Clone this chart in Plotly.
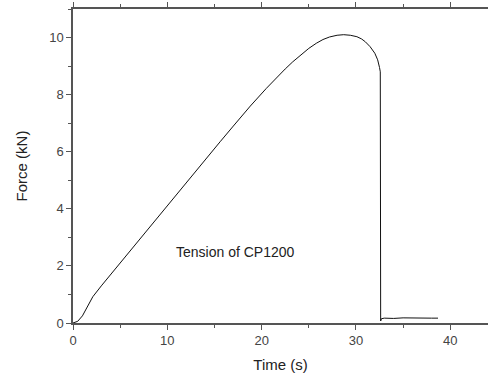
import plotly.graph_objects as go

# force-time record
time_s = [0, 0.5, 1, 1.5, 2.1, 3, 5.7, 9.2, 12.8, 15.6, 17, 18.8, 20.5, 21.5, 22.5,
          23.3, 24.1, 25, 25.8, 26.5, 27.2, 28, 28.7, 29.4, 30.1, 30.6, 31, 31.5,
          32, 32.3, 32.5, 32.58, 32.62, 32.7, 33, 34, 35, 36, 37, 38, 38.7]
force_kn = [0, 0.06, 0.25, 0.55, 0.92, 1.3, 2.39, 3.79, 5.23, 6.35, 6.9, 7.6, 8.22,
            8.57, 8.9, 9.15, 9.38, 9.62, 9.8, 9.93, 10.02, 10.08, 10.1, 10.08,
            10.03, 9.95, 9.85, 9.68, 9.45, 9.22, 8.95, 8.8, 0.07, 0.15, 0.17, 0.16,
            0.18, 0.17, 0.18, 0.17, 0.17]

label = "Tension of CP1200"

fig = go.Figure()
fig.add_trace(go.Scatter(x=time_s, y=force_kn, mode="lines",
                         line=dict(color="#111111", width=1), showlegend=False))

fig.add_annotation(text=label, x=17.2, y=2.5, xref="x", yref="y", showarrow=False,
                   font=dict(size=14, color="#222222"))

axis_common = dict(showline=True, linecolor="#555555", linewidth=1.5,
                   ticks="outside", ticklen=5, tickcolor="#555555", showgrid=False,
                   zeroline=False, automargin=False,
                   tickfont=dict(size=13, color="#444444"),
                   minor=dict(ticks="outside", ticklen=3, tickcolor="#555555"))

fig.update_xaxes(range=[0, 44], dtick=10, minor_dtick=5, mirror="ticks",
                 title=dict(text="Time (s)", font=dict(size=15, color="#222222"), standoff=12),
                 **axis_common)
fig.update_yaxes(range=[0, 11], dtick=2, minor_dtick=1, mirror=False,
                 title=dict(text="Force (kN)", font=dict(size=15, color="#222222"), standoff=18),
                 **axis_common)

fig.update_layout(width=488, height=376, plot_bgcolor="white", paper_bgcolor="white",
                  margin=dict(l=73, r=0, t=9, b=53),
                  font=dict(family="Liberation Sans, Arial, sans-serif"))

# drop the default 8px body margin so the figure fills the window exactly
fig.write_html("out.html", config={"displayModeBar": False},
               post_script="document.body.style.margin='0';")
